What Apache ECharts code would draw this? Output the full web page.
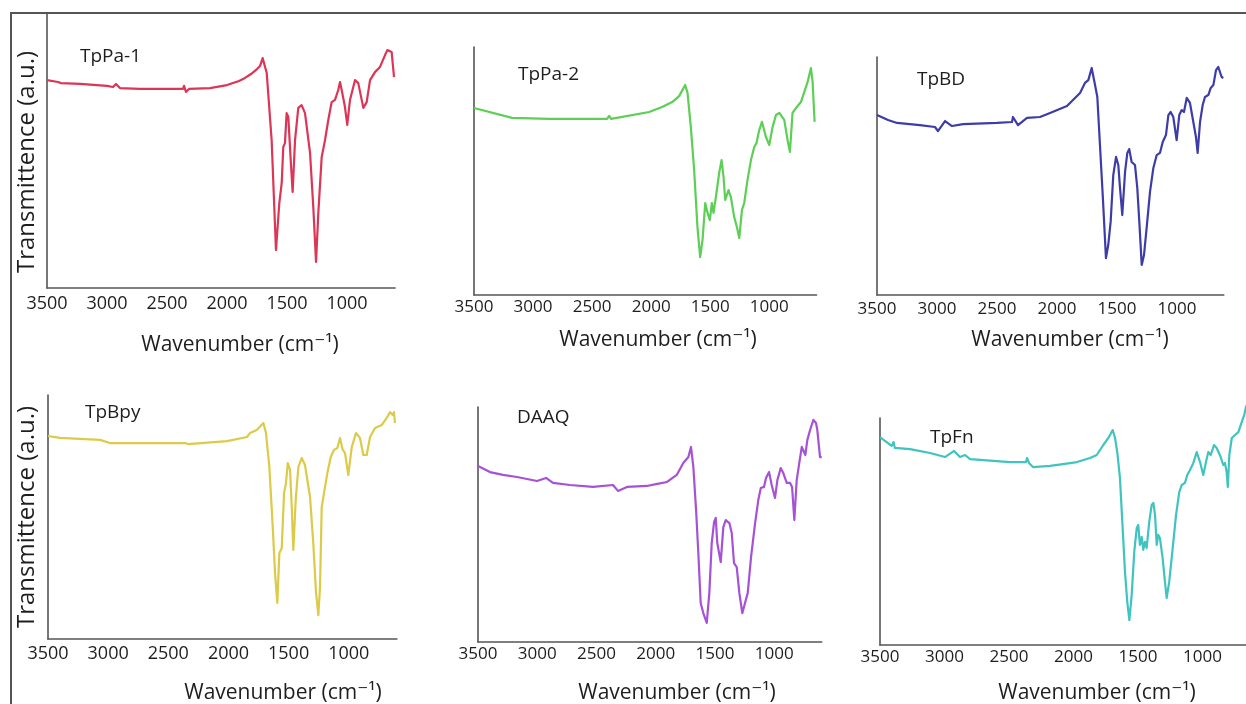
<!DOCTYPE html>
<html>
<head>
<meta charset="utf-8">
<script src="https://cdn.jsdelivr.net/npm/echarts@6/dist/echarts.min.js"></script>
<style>html,body{margin:0;padding:0;background:#fff}#c{width:1246px;height:704px}</style>
</head>
<body>
<div id="c"></div>
<script>
// ---- Data (wavenumber cm^-1, transmittance a.u.) ----
const sampleNames = ['TpPa-1', 'TpPa-2', 'TpBD', 'TpBpy', 'DAAQ', 'TpFn'];
const xTicks = [3500, 3000, 2500, 2000, 1500, 1000];
const xTitle = 'Wavenumber (cm\u207B\u00B9)';
const yTitle = 'Transmittence (a.u.)';

const TpPa1 = [[3500,75.6],[3408,74.9],[3400,75.6],[3383,74.5],[3225,74.2],[3000,73.5],[2950,73.1],[2925,74.2],[2892,72.7],[2725,72.4],[2367,72.4],[2358,73.5],[2342,71.3],[2317,72.4],[2142,72.7],[2000,73.8],[1900,75.3],[1850,76.4],[1800,77.8],[1750,79.6],[1725,80.7],[1703,83.6],[1669,78.2],[1628,53.8],[1592,13.8],[1564,30.9],[1544,38.2],[1531,51.3],[1517,52.7],[1503,63.6],[1489,62.2],[1469,46.5],[1453,34.9],[1433,53.8],[1406,65.5],[1378,66.5],[1350,63.6],[1308,49.1],[1281,29.5],[1258,9.5],[1239,27.3],[1211,47.6],[1183,53.8],[1156,61.1],[1128,67.6],[1100,68.4],[1073,72.0],[1058,74.9],[1036,70.2],[1017,65.8],[998,59.3],[975,68.4],[933,75.6],[906,74.5],[864,65.5],[836,67.6],[808,75.6],[767,78.5],[725,80.4],[683,84.7],[664,86.5],[628,85.8],[617,86.5],[608,76.7]];

const TpPa2 = [[3500,75.4],[3178,71.4],[2864,71.0],[2500,71.0],[2373,71.0],[2356,72.2],[2339,71.0],[2017,73.8],[1907,75.8],[1822,77.8],[1763,80.2],[1712,84.7],[1692,81.5],[1664,67.7],[1636,50.4],[1608,27.4],[1585,15.3],[1565,22.2],[1542,37.1],[1525,33.5],[1503,30.2],[1486,37.1],[1472,33.1],[1452,39.5],[1424,49.2],[1404,54.4],[1387,47.6],[1373,38.3],[1345,42.3],[1325,39.5],[1297,31.5],[1274,27.4],[1254,23.0],[1231,34.3],[1212,37.1],[1184,46.4],[1155,54.4],[1127,59.7],[1108,61.3],[1085,66.5],[1062,69.8],[1028,63.7],[1000,60.5],[972,67.7],[943,72.6],[915,73.4],[873,70.6],[845,62.5],[825,57.7],[803,73.4],[774,75.4],[732,77.8],[703,81.9],[675,85.9],[647,91.5],[633,85.9],[616,69.8]];

const TpBD = [[3500,75.6],[3408,73.5],[3333,72.3],[3142,71.4],[3017,70.6],[2992,68.9],[2933,73.1],[2875,71.0],[2783,71.8],[2500,72.3],[2375,72.7],[2367,74.8],[2325,71.4],[2250,74.4],[2142,74.8],[2058,76.5],[1917,79.4],[1850,82.8],[1808,84.9],[1767,89.1],[1739,90.3],[1711,95.4],[1683,88.2],[1664,83.2],[1642,63.0],[1619,42.0],[1592,15.5],[1573,21.0],[1553,30.7],[1531,50.4],[1508,58.0],[1489,54.6],[1475,45.0],[1456,33.6],[1433,51.7],[1414,59.7],[1398,61.3],[1378,55.9],[1350,54.6],[1331,45.0],[1314,30.7],[1294,12.6],[1275,16.8],[1253,28.2],[1225,43.3],[1197,53.4],[1169,58.8],[1142,59.7],[1119,64.3],[1092,67.2],[1072,75.6],[1053,76.9],[1031,74.8],[1003,65.1],[981,75.6],[961,77.7],[942,76.9],[919,82.8],[892,80.7],[864,72.7],[842,66.4],[828,59.7],[808,72.7],[786,79.8],[767,83.2],[739,84.0],[719,87.0],[697,88.2],[675,94.5],[656,95.8],[642,95.4],[628,91.6],[614,91.2]];

const TpBpy = [[3500,83.2],[3400,82.4],[3068,81.6],[2985,80.3],[2511,80.3],[2361,80.3],[2353,81.1],[2336,79.9],[2012,81.1],[1846,82.8],[1821,84.4],[1765,85.7],[1710,88.5],[1688,84.4],[1660,70.5],[1632,45.9],[1613,27.0],[1594,14.8],[1577,35.2],[1557,37.3],[1538,59.8],[1522,63.9],[1507,72.1],[1488,69.3],[1474,54.1],[1461,36.5],[1441,57.0],[1419,70.5],[1391,74.2],[1364,71.3],[1322,58.2],[1295,39.3],[1272,18.9],[1253,9.8],[1239,21.3],[1225,54.1],[1206,59.8],[1178,68.0],[1150,74.6],[1123,77.5],[1095,78.3],[1073,82.4],[1050,77.5],[1031,76.2],[1004,67.2],[975,78.7],[940,84.4],[907,82.4],[879,75.4],[851,75.4],[823,82.8],[782,86.5],[726,87.7],[685,90.6],[657,93.0],[635,91.8],[624,93.0],[616,88.5]];

const DAAQ = [[3500,74.9],[3399,72.3],[3289,71.1],[3171,70.2],[3002,68.5],[2926,69.8],[2867,67.7],[2724,66.8],[2530,66.0],[2361,66.8],[2319,64.3],[2243,66.0],[2074,66.4],[1998,67.2],[1905,68.1],[1823,71.1],[1768,76.2],[1725,78.7],[1703,83.0],[1683,74.5],[1660,56.2],[1641,37.9],[1621,16.6],[1599,12.3],[1570,8.1],[1548,20.9],[1528,42.1],[1508,51.1],[1494,52.8],[1481,42.1],[1452,34.0],[1430,48.9],[1410,51.9],[1379,50.6],[1359,46.4],[1340,33.6],[1317,31.9],[1295,20.9],[1270,12.3],[1247,16.6],[1224,20.9],[1196,36.2],[1162,50.6],[1135,60.4],[1114,65.5],[1087,66.0],[1070,69.8],[1044,72.3],[1022,66.8],[994,61.3],[974,68.9],[946,74.0],[924,71.9],[895,67.7],[867,67.7],[850,66.0],[831,51.9],[811,68.9],[789,76.2],[768,83.0],[755,83.8],[738,79.6],[721,86.0],[698,90.2],[670,94.5],[648,93.2],[637,90.2],[614,78.7],[600,78.7]];

const TpFn = [[3500,91.6],[3410,87.7],[3395,89.4],[3385,86.8],[3267,86.3],[3112,84.6],[2996,82.8],[2926,85.5],[2880,82.8],[2841,83.7],[2802,81.9],[2492,80.6],[2368,80.6],[2360,82.4],[2345,80.2],[2314,78.4],[2182,78.9],[2081,79.7],[1973,80.6],[1872,82.4],[1820,83.7],[1769,88.1],[1730,91.2],[1696,94.7],[1678,91.2],[1660,84.6],[1640,73.6],[1619,51.5],[1601,32.2],[1583,18.9],[1567,11.0],[1549,22.0],[1529,41.0],[1510,51.5],[1498,52.9],[1485,44.1],[1471,47.6],[1459,41.9],[1446,45.4],[1433,42.7],[1413,54.2],[1394,61.7],[1381,62.6],[1368,57.3],[1355,44.1],[1343,48.5],[1330,47.1],[1309,38.3],[1291,27.8],[1278,20.7],[1258,27.8],[1231,42.7],[1205,57.3],[1180,67.4],[1161,70.5],[1136,71.4],[1118,74.9],[1097,77.1],[1071,80.2],[1045,85.0],[1019,80.6],[994,74.9],[973,80.6],[955,85.0],[936,83.7],[911,88.1],[890,86.8],[859,82.8],[839,79.3],[826,80.2],[813,76.2],[804,69.6],[792,83.7],[773,91.2],[748,92.5],[722,93.8],[696,98.2],[677,101.3],[663,104.8],[640,108.0]];

const seriesData = [TpPa1, TpPa2, TpBD, TpBpy, DAAQ, TpFn];
const lineColors = ['#dc3556', '#5ccf55', '#3d3ca8', '#dccb48', '#a552d6', '#3fc4bf'];

// ---- Layout (pixels) ----
const grids = [
  {left: 47,  top: 13,  width: 348,   height: 275},
  {left: 474, top: 47,  width: 342.5, height: 248},
  {left: 877, top: 57,  width: 346.8, height: 238},
  {left: 48,  top: 395, width: 348.9, height: 244},
  {left: 478, top: 407, width: 343.7, height: 235},
  {left: 880, top: 418, width: 374.1, height: 227}
];
const xMins = [600, 600, 610, 600, 600, 600];
const labelMargins = [7, 4, 6, 6, 4, 4];
const labelSizes = [18, 17, 17, 18, 17, 17];
const nameLabelPos = [[80,57],[518,75],[917,80],[85,413],[517,418],[930,438]];
const xTitlePos = [[240,345],[658,340],[1070,340],[283,693],[677,693],[1097,693]];
const yTitlePos = [[27,162],[27,517]];

const FONT = '"Open Sans", "DejaVu Sans", sans-serif';
const AXIS_COLOR = '#555';
const TEXT_COLOR = '#1e1e1e';

const chart = echarts.init(document.getElementById('c'), null, {renderer: 'canvas'});

const option = {
  backgroundColor: '#fff',
  animation: false,
  grid: grids.map(g => Object.assign({outerBoundsMode: 'none', containLabel: false}, g)),
  xAxis: grids.map((g, i) => ({
    type: 'value', gridIndex: i, inverse: true, min: xMins[i], max: 3500,
    axisLine: {show: true, onZero: false, lineStyle: {color: AXIS_COLOR, width: 1.6}},
    axisTick: {show: false},
    splitLine: {show: false},
    axisLabel: {customValues: xTicks, margin: labelMargins[i], fontSize: labelSizes[i],
      fontFamily: FONT, color: TEXT_COLOR, hideOverlap: false,
      formatter: v => String(v)}
  })),
  yAxis: grids.map((g, i) => ({
    type: 'value', gridIndex: i, min: 0, max: 100,
    axisLine: {show: true, onZero: false, lineStyle: {color: AXIS_COLOR, width: 1.6}},
    axisTick: {show: false}, axisLabel: {show: false}, splitLine: {show: false}
  })),
  series: seriesData.map((d, i) => ({
    type: 'line', name: sampleNames[i], xAxisIndex: i, yAxisIndex: i,
    data: d, showSymbol: false, symbol: 'none', clip: i !== 5,
    lineStyle: {color: lineColors[i], width: 2.2, join: 'round'}, z: 3
  })),
  graphic: [
    {type: 'line', shape: {x1: 10, y1: 13, x2: 1246, y2: 13}, style: {stroke: '#555', lineWidth: 2}},
    {type: 'line', shape: {x1: 11, y1: 12, x2: 11, y2: 704}, style: {stroke: '#555', lineWidth: 2}}
  ]
    .concat(nameLabelPos.map((p, i) => ({
      type: 'text', x: p[0], y: p[1],
      style: {text: sampleNames[i], fontSize: 19, fontFamily: FONT, fill: TEXT_COLOR, align: 'left', verticalAlign: 'middle'}
    })))
    .concat(xTitlePos.map(p => ({
      type: 'text', x: p[0], y: p[1],
      style: {text: xTitle, fontSize: 21, fontFamily: FONT, fill: TEXT_COLOR, align: 'center', verticalAlign: 'middle'}
    })))
    .concat(yTitlePos.map(p => ({
      type: 'text', x: p[0], y: p[1], rotation: Math.PI / 2,
      style: {text: yTitle, fontSize: 24, fontFamily: FONT, fill: TEXT_COLOR, align: 'center', verticalAlign: 'middle'}
    })))
};
chart.setOption(option);
</script>
</body>
</html>
